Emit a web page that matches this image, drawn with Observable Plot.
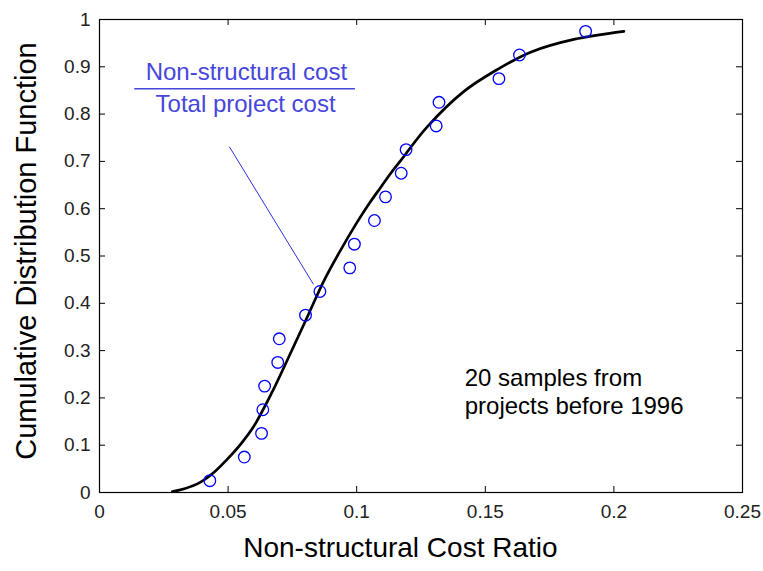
<!DOCTYPE html>
<html>
<head>
<meta charset="utf-8">
<script src="https://cdn.jsdelivr.net/npm/d3@7"></script>
<script src="https://cdn.jsdelivr.net/npm/@observablehq/plot@0.6"></script>
<style>
  html, body { margin: 0; padding: 0; background: #fff; }
  #chart svg { display: block; }
</style>
</head>
<body>
<div id="chart"></div>
<script>
// Sample data: non-structural cost ratio of 20 projects and their empirical CDF
const sampleRatio = [0.0429, 0.0563, 0.0630, 0.0635, 0.0642, 0.0693, 0.0699, 0.0801, 0.0857, 0.0973,
                     0.0991, 0.1069, 0.1112, 0.1173, 0.1192, 0.1309, 0.1320, 0.1553, 0.1633, 0.1890];
const sampleCdf = [0.025, 0.075, 0.125, 0.175, 0.225, 0.275, 0.325, 0.375, 0.425, 0.475,
                   0.525, 0.575, 0.625, 0.675, 0.725, 0.775, 0.825, 0.875, 0.925, 0.975];

// Fitted CDF curve
const fitRatio = [0.0283, 0.0330, 0.0393, 0.0450, 0.0496, 0.0550, 0.0600, 0.0671, 0.0743, 0.0807, 0.0872,
                  0.0937, 0.1000, 0.1050, 0.1093, 0.1131, 0.1170, 0.1274, 0.1417, 0.1546, 0.1676, 0.1844, 0.2039];
const fitCdf = [0.002, 0.008, 0.022, 0.045, 0.070, 0.103, 0.140, 0.212, 0.295, 0.370, 0.447,
                0.512, 0.570, 0.612, 0.645, 0.674, 0.701, 0.773, 0.848, 0.894, 0.931, 0.958, 0.975];

// Tick values
const xTicks = [0, 0.05, 0.1, 0.15, 0.2, 0.25];
const yTicks = [0, 0.1, 0.2, 0.3, 0.4, 0.5, 0.6, 0.7, 0.8, 0.9, 1];
const xTickLabels = ["0", "0.05", "0.1", "0.15", "0.2", "0.25"];
const yTickLabels = ["0", "0.1", "0.2", "0.3", "0.4", "0.5", "0.6", "0.7", "0.8", "0.9", "1"];

// Texts
const xTitle = "Non-structural Cost Ratio";
const yTitle = "Cumulative Distribution Function";
const fracNumerator = "Non-structural cost";
const fracDenominator = "Total project cost";
const noteLines = ["20 samples from", "projects before 1996"];

const samples = sampleRatio.map((x, i) => ({x, y: sampleCdf[i]}));
const fit = fitRatio.map((x, i) => ({x, y: fitCdf[i]}));

const W = 763, H = 571;
const mL = 99, mR = 21, mT = 19, mB = 79;
const tickLenX = 6 / (H - mT - mB);   // inward tick length in y units
const tickLenY = 6 / (W - mL - mR) * 0.25; // inward tick length in x units

const font = "Arial, 'Liberation Sans', Helvetica, sans-serif";
const blueText = "#4646dc";

const plot = Plot.plot({
  width: W,
  height: H,
  marginLeft: mL,
  marginRight: mR,
  marginTop: mT,
  marginBottom: mB,
  style: {fontFamily: font, background: "#fff", color: "#000"},
  x: {domain: [0, 0.25]},
  y: {domain: [0, 1]},
  marks: [
    // inward ticks on all four sides
    Plot.ruleX(xTicks, {x: d => d, y1: 0, y2: tickLenX, stroke: "#000", strokeWidth: 1}),
    Plot.ruleX(xTicks, {x: d => d, y1: 1 - tickLenX, y2: 1, stroke: "#000", strokeWidth: 1}),
    Plot.ruleY(yTicks, {y: d => d, x1: 0, x2: tickLenY, stroke: "#000", strokeWidth: 1}),
    Plot.ruleY(yTicks, {y: d => d, x1: 0.25 - tickLenY, x2: 0.25, stroke: "#000", strokeWidth: 1}),
    Plot.axisX({ticks: xTicks, tickFormat: (d, i) => xTickLabels[i], tickSize: 0, tickPadding: 12,
                fontSize: 19, label: null, fill: "#222"}),
    Plot.axisY({ticks: yTicks, tickFormat: (d, i) => yTickLabels[i], tickSize: 0, tickPadding: 9,
                fontSize: 19, label: null, fill: "#222"}),
    Plot.frame({stroke: "#000", strokeWidth: 1.2}),
    // fraction annotation
    Plot.ruleY([0.8535], {x1: 0.0137, x2: 0.0995, stroke: blueText, strokeWidth: 1.5}),
    Plot.text([fracNumerator], {x: 0.0571, y: 0.8535, text: d => d, dy: -16, fontSize: 24, fill: blueText}),
    Plot.text([fracDenominator], {x: 0.0568, y: 0.8535, text: d => d, dy: 16, fontSize: 24, fill: blueText}),
    Plot.link([{x1: 0.0505, y1: 0.731, x2: 0.0832, y2: 0.44}], {x1: "x1", y1: "y1", x2: "x2", y2: "y2", stroke: "#3030e0", strokeWidth: 1}),
    // fitted curve
    Plot.line(fit, {x: "x", y: "y", curve: "catmull-rom", stroke: "#000", strokeWidth: 2.7}),
    // samples
    Plot.dot(samples, {x: "x", y: "y", r: 5.8, stroke: "#0000ff", strokeWidth: 1.3, fill: "none"}),
    // note
    Plot.text([noteLines.join("\n")], {x: 0.142, y: 0.215, text: d => d, textAnchor: "start", lineHeight: 1.18,
              fontSize: 24, fill: "#000"}),
    // axis titles
    Plot.text([xTitle], {frameAnchor: "bottom", x: 0.117, text: d => d, dy: 64, fontSize: 28, fill: "#000"}),
    Plot.text([yTitle], {frameAnchor: "left", text: d => d, textAnchor: "middle", dx: -73, dy: -5, rotate: -90,
              fontSize: 29, fill: "#000"})
  ]
});

document.getElementById("chart").appendChild(plot);
</script>
</body>
</html>
